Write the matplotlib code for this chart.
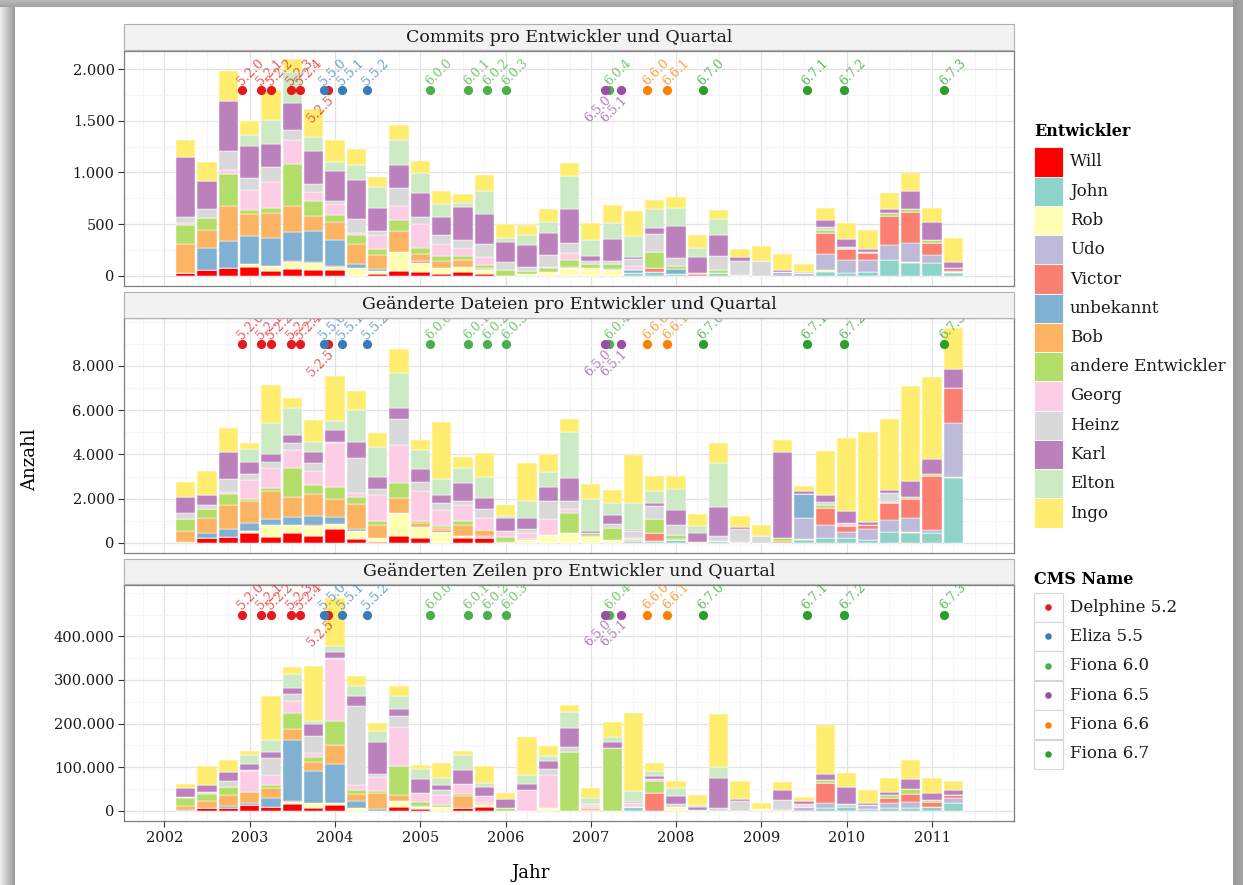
import matplotlib
matplotlib.use("Agg")
import matplotlib.pyplot as plt
import numpy as np
from matplotlib.patches import Rectangle
from matplotlib.ticker import FuncFormatter, MultipleLocator, FixedLocator

plt.rcParams["font.family"] = ["DejaVu Serif"]

W, H = 1243, 885

DEVS = ["Will", "John", "Rob", "Udo", "Victor", "unbekannt", "Bob",
        "andere Entwickler", "Georg", "Heinz", "Karl", "Elton", "Ingo"]
DEV_COLORS = ["#FF0000", "#8DD3C7", "#FFFFB3", "#BEBADA", "#FB8072", "#80B1D3", "#FDB462",
              "#B3DE69", "#FCCDE5", "#D9D9D9", "#BC80BD", "#CCEBC5", "#FFED6F"]

# quarters 2002.25 ... 2011.25 (37 bars)
QUARTERS = np.arange(2002.25, 2011.3, 0.25)

# commits per developer and quarter
COMMITS = {
    "Will":      [23, 58, 71, 87, 48, 68, 58, 58, 0, 16, 48, 39, 13, 39, 13, 0, 0, 0, 0,
                  0, 0, 0, 0, 0, 0, 0, 0, 0, 0, 0, 0, 0, 0, 0, 0, 0, 0],
    "John":      [0, 0, 0, 0, 0, 0, 0, 0, 0, 0, 0, 0, 0, 0, 0, 0, 0, 0, 0,
                  0, 0, 23, 32, 16, 0, 23, 0, 0, 0, 0, 32, 23, 39, 152, 126, 126, 23],
    "Rob":       [0, 0, 0, 23, 48, 65, 65, 26, 74, 32, 178, 87, 65, 48, 42, 0, 20, 39, 71,
                  71, 55, 0, 0, 0, 0, 0, 0, 0, 0, 0, 23, 0, 0, 0, 6, 0, 13],
    "Udo":       [0, 0, 0, 0, 0, 0, 0, 0, 0, 0, 0, 0, 0, 0, 0, 0, 0, 0, 0,
                  0, 0, 0, 0, 0, 0, 0, 0, 0, 32, 23, 152, 132, 113, 149, 181, 71, 10],
    "Victor":    [0, 0, 0, 0, 0, 8, 8, 6, 0, 0, 0, 12, 0, 0, 0, 0, 0, 0, 0,
                  8, 0, 0, 42, 0, 13, 0, 0, 0, 0, 0, 210, 103, 65, 278, 304, 123, 26],
    "unbekannt": [0, 207, 268, 278, 265, 281, 300, 258, 39, 16, 8, 0, 0, 0, 12, 0, 0, 0, 10,
                  0, 10, 36, 0, 45, 0, 0, 0, 0, 0, 0, 0, 0, 0, 0, 0, 0, 0],
    "Bob":       [281, 181, 339, 207, 249, 258, 145, 171, 191, 132, 197, 74, 65, 65, 12, 0, 0, 0, 0,
                  0, 0, 0, 0, 0, 13, 0, 0, 0, 0, 0, 0, 0, 0, 0, 0, 0, 0],
    "andere Entwickler": [187, 113, 304, 39, 42, 404, 145, 65, 90, 58, 113, 55, 48, 39, 26, 55, 26, 36, 71,
                          36, 48, 0, 152, 29, 0, 32, 0, 0, 0, 0, 26, 10, 10, 26, 26, 26, 0],
    "Georg":     [16, 0, 39, 200, 252, 226, 94, 113, 19, 136, 132, 229, 113, 81, 74, 0, 0, 12, 65,
                  0, 0, 36, 0, 0, 0, 0, 6, 0, 0, 0, 0, 0, 0, 0, 0, 0, 0],
    "Heinz":     [65, 90, 187, 110, 145, 100, 78, 26, 132, 42, 171, 71, 90, 78, 126, 78, 39, 116, 103,
                  26, 29, 65, 181, 78, 0, 132, 139, 142, 0, 0, 29, 8, 0, 0, 0, 0, 0],
    "Karl":      [578, 265, 481, 313, 226, 268, 313, 294, 378, 226, 226, 239, 171, 313, 291, 197, 216, 210, 323,
                  45, 216, 19, 55, 313, 155, 207, 32, 0, 26, 16, 65, 81, 36, 45, 178, 174, 61],
    "Elton":     [0, 0, 0, 110, 236, 291, 142, 84, 152, 200, 242, 187, 126, 45, 226, 36, 94, 107, 320,
                  161, 149, 210, 181, 171, 90, 155, 0, 0, 0, 0, 0, 0, 0, 0, 0, 0, 0],
    "Ingo":      [165, 187, 291, 132, 291, 129, 265, 210, 152, 103, 142, 123, 129, 84, 149, 136, 94, 129, 132,
                  161, 174, 233, 90, 110, 123, 90, 78, 142, 149, 74, 123, 149, 181, 152, 171, 139, 236],
}

# changed files per developer and quarter
FILES = {
    "Will":      [45, 226, 256, 466, 256, 436, 301, 647, 165, 45, 301, 226, 0, 211, 226, 0, 0, 0, 0,
                  0, 0, 0, 0, 0, 0, 0, 0, 0, 0, 0, 0, 0, 0, 0, 0, 0, 0],
    "John":      [0, 0, 0, 0, 0, 0, 0, 0, 0, 0, 0, 0, 0, 0, 0, 0, 0, 0, 0,
                  0, 0, 75, 75, 120, 0, 75, 0, 0, 0, 120, 196, 226, 120, 481, 451, 451, 2918],
    "Rob":       [0, 0, 0, 90, 541, 391, 481, 226, 391, 165, 1053, 511, 511, 120, 0, 0, 120, 346, 436,
                  241, 135, 0, 0, 0, 0, 0, 0, 0, 0, 60, 0, 0, 0, 0, 45, 0, 45],
    "Udo":       [0, 0, 0, 0, 0, 0, 0, 0, 0, 0, 0, 0, 0, 0, 0, 0, 0, 0, 0,
                  0, 0, 0, 0, 0, 0, 0, 0, 0, 0, 963, 602, 286, 526, 572, 647, 120, 2437],
    "Victor":    [0, 0, 0, 0, 0, 0, 45, 0, 0, 0, 0, 0, 60, 0, 30, 45, 0, 0, 0,
                  0, 0, 75, 376, 0, 0, 0, 0, 0, 0, 0, 782, 241, 150, 752, 857, 2467, 1624],
    "unbekannt": [0, 211, 391, 361, 286, 346, 406, 301, 60, 0, 0, 0, 0, 0, 30, 0, 0, 0, 0,
                  0, 0, 0, 0, 75, 0, 0, 0, 0, 0, 1053, 0, 0, 0, 0, 0, 0, 0],
    "Bob":       [511, 707, 1068, 963, 1278, 887, 993, 797, 1143, 617, 692, 150, 105, 496, 286, 0, 0, 0, 0,
                  45, 0, 45, 0, 0, 45, 0, 0, 0, 75, 0, 0, 0, 0, 0, 0, 0, 0],
    "andere Entwickler": [541, 391, 511, 120, 135, 1308, 406, 556, 331, 180, 677, 120, 105, 180, 0, 211, 60, 0, 917,
                          150, 556, 0, 632, 165, 0, 0, 0, 0, 150, 0, 120, 0, 0, 45, 75, 90, 0],
    "Georg":     [0, 0, 75, 857, 887, 842, 602, 1985, 165, 1143, 1715, 1324, 722, 707, 572, 301, 256, 752, 195,
                  0, 0, 45, 0, 0, 0, 0, 45, 0, 0, 0, 0, 150, 0, 0, 0, 0, 0],
    "Heinz":     [256, 165, 587, 271, 271, 301, 361, 45, 1564, 301, 1173, 436, 301, 165, 391, 0, 211, 797, 346,
                  0, 180, 301, 572, 451, 0, 226, 572, 301, 0, 0, 135, 0, 0, 391, 0, 0, 0],
    "Karl":      [737, 481, 1233, 511, 376, 361, 526, 526, 737, 526, 496, 572, 346, 842, 481, 587, 496, 647, 1038,
                  120, 406, 60, 150, 677, 391, 1324, 105, 0, 3895, 135, 316, 556, 165, 150, 737, 647, 842],
    "Elton":     [0, 0, 0, 602, 1399, 1233, 436, 436, 1459, 1369, 1579, 872, 737, 662, 963, 90, 752, 677, 2075,
                  1414, 526, 1203, 556, 932, 346, 1970, 0, 0, 0, 0, 0, 0, 0, 0, 0, 0, 0],
    "Ingo":      [647, 1068, 1068, 271, 1715, 466, 1008, 2030, 842, 617, 1083, 451, 2557, 481, 1098, 481, 1700, 782, 602,
                  707, 602, 2181, 662, 602, 541, 917, 511, 496, 526, 241, 2015, 3294, 4046, 3219, 4301, 3730, 1865],
}

# changed lines per developer and quarter, in thousands
LINES_K = {
    "Will":      [0, 6.8, 6.1, 12.9, 9.1, 14.4, 6.1, 12.9, 0, 0, 9.1, 3.8, 0, 5.3, 9.1, 0, 0, 0, 0,
                  0, 0, 0, 0, 0, 0, 0, 0, 0, 0, 0, 0, 0, 0, 0, 0, 0, 0],
    "John":      [0, 0, 0, 0, 0, 0, 0, 0, 0, 0, 0, 0, 0, 0, 0, 0, 0, 0, 0,
                  0, 0, 7.6, 0, 0, 0, 0, 0, 0, 0, 0, 5.3, 7.6, 4.5, 6.1, 5.3, 7.6, 16.7],
    "Rob":       [0, 0, 0, 0, 0, 5.3, 10.6, 3.8, 5.3, 0, 13.6, 5.3, 7.6, 0, 3.0, 0, 0, 5.3, 0,
                  0, 0, 0, 0, 7.6, 0, 0, 0, 3.0, 0, 0, 0, 0, 0, 0, 0, 0, 0],
    "Udo":       [0, 0, 0, 0, 0, 0, 0, 0, 0, 0, 0, 0, 0, 0, 0, 0, 0, 0, 0,
                  0, 0, 0, 0, 0, 0, 0, 0, 0, 0, 7.6, 11.4, 5.3, 8.3, 10.6, 13.6, 0, 12.1],
    "Victor":    [0, 0, 0, 0, 0, 3.0, 0, 0, 0, 0, 0, 0, 0, 0, 0, 0, 0, 0, 0,
                  2.7, 0, 0, 41.7, 0, 0, 0, 0, 0, 0, 0, 47.0, 3.0, 0, 12.1, 19.7, 12.9, 6.8],
    "unbekannt": [1.5, 0, 3.8, 5.3, 21.2, 140.2, 75.0, 90.9, 15.9, 3.0, 0, 2.3, 0, 0, 0, 0, 0, 0, 0,
                  0, 0, 0, 0, 0, 0, 0, 0, 0, 0, 0, 0, 0, 0, 0, 0, 0, 0],
    "Bob":       [8.3, 15.9, 26.5, 24.2, 22.0, 24.2, 20.5, 43.2, 18.2, 37.1, 14.4, 0, 0, 27.3, 3.0, 0, 0, 0, 0,
                  2.6, 0, 0, 0, 0, 1.5, 0, 0, 0, 0, 0, 0, 0, 0, 0, 0, 0, 0],
    "andere Entwickler": [18.9, 15.2, 17.4, 0, 6.1, 37.1, 11.4, 56.1, 7.6, 6.1, 64.4, 7.6, 5.3, 6.8, 1.5, 5.3, 0, 0, 134.1,
                          0, 143.9, 0, 25.8, 0, 0, 0, 0, 0, 1.5, 0, 7.6, 0, 0, 6.8, 12.1, 3.8, 0],
    "Georg":     [3.8, 5.3, 0, 49.2, 24.2, 26.5, 8.3, 140.9, 12.1, 31.1, 90.2, 22.0, 23.5, 22.7, 18.2, 0, 47.0, 75.8, 0,
                  5.3, 0, 9.8, 6.0, 0, 0, 0, 0, 0, 0, 6.8, 0, 0, 0, 0, 0, 0, 0],
    "Heinz":     [0, 0, 13.6, 2.3, 37.9, 17.4, 40.2, 2.3, 181.1, 7.6, 25.8, 0, 12.1, 0, 0, 0, 0, 15.2, 12.9,
                  3.8, 0, 0, 0, 7.6, 0, 5.3, 22.0, 0, 24.2, 0, 0, 0, 0, 0, 0, 0, 0],
    "Karl":      [20.5, 16.7, 22.0, 12.9, 13.6, 13.6, 25.8, 14.4, 22.0, 73.5, 15.9, 31.1, 10.6, 30.3, 20.5, 20.5, 15.2, 17.4, 41.7,
                  0, 12.9, 2.0, 6.1, 17.4, 7.6, 68.9, 5.3, 0, 21.2, 8.3, 12.1, 38.6, 3.8, 8.3, 22.0, 17.4, 12.9],
    "Elton":     [0, 0, 0, 20.5, 28.8, 31.8, 6.8, 12.9, 22.7, 23.5, 29.5, 23.5, 15.9, 35.6, 7.6, 0, 18.9, 12.9, 38.6,
                  15.9, 12.9, 25.8, 10.6, 19.7, 3.8, 25.8, 0, 0, 0, 0, 0, 0, 0, 0, 0, 0, 0],
    "Ingo":      [9.1, 43.2, 26.5, 10.6, 99.2, 15.2, 126.5, 110.6, 23.5, 18.9, 22.0, 9.8, 33.3, 8.3, 38.6, 15.2, 87.9, 22.7, 15.2,
                  22.0, 34.8, 179.5, 19.7, 16.7, 22.0, 122.7, 40.2, 13.6, 18.2, 9.8, 113.6, 31.1, 31.1, 30.3, 43.9, 32.6, 18.9],
}

# CMS releases
RELEASE_NAMES = ["5.2.0", "5.2.1", "5.2.2", "5.2.3", "5.2.4", "5.2.5", "5.5.0", "5.5.1", "5.5.2",
                 "6.0.0", "6.0.1", "6.0.2", "6.0.3", "6.0.4", "6.5.0", "6.5.1", "6.6.0", "6.6.1",
                 "6.7.0", "6.7.1", "6.7.2", "6.7.3"]
RELEASE_DATES = [2002.91, 2003.13, 2003.25, 2003.49, 2003.59, 2003.92, 2003.87, 2004.08, 2004.38,
                 2005.12, 2005.56, 2005.78, 2006.01, 2007.21, 2007.17, 2007.35, 2007.66, 2007.89,
                 2008.31, 2009.53, 2009.97, 2011.14]
RELEASE_LINE = ["Delphine 5.2"] * 6 + ["Eliza 5.5"] * 3 + ["Fiona 6.0"] * 5 + \
               ["Fiona 6.5"] * 2 + ["Fiona 6.6"] * 2 + ["Fiona 6.7"] * 4
LABEL_DOWN = {"5.2.5", "6.5.0", "6.5.1"}
CMS_NAMES = ["Delphine 5.2", "Eliza 5.5", "Fiona 6.0", "Fiona 6.5", "Fiona 6.6", "Fiona 6.7"]
CMS_COLORS = ["#E41A1C", "#377EB8", "#4DAF4A", "#984EA3", "#FF7F00", "#2E9E2A"]

TITLES = ["Commits pro Entwickler und Quartal",
          "Geänderte Dateien pro Entwickler und Quartal",
          "Geänderten Zeilen pro Entwickler und Quartal"]
RELEASE_Y = [1800, 9000, 450000]
YTICKS = [[0, 500, 1000, 1500, 2000],
          [0, 2000, 4000, 6000, 8000],
          [0, 100000, 200000, 300000, 400000]]
YMINOR = [250, 1000, 50000]

# layout (pixels)
L, R = 124.3, 1014.3
BOXES = [(50.7, 285.7), (318.3, 552.5), (585.0, 821.0)]
STRIP_H = 25.5
YLIMS = [(-97, 2180), (-438, 10158), (-23600, 517700)]

fig = plt.figure(figsize=(W / 100, H / 100), dpi=100, facecolor="white")

# page shadow
bg = fig.add_axes([0, 0, 1, 1], zorder=-10)
bg.set_xlim(0, W); bg.set_ylim(H, 0); bg.axis("off")
for i in range(15):
    g = 0.93 - 0.33 * i / 14
    bg.add_patch(Rectangle((i, 0), 1.05, H, color=(g, g, g), lw=0))
for j in range(7):
    g = 0.72 - 0.08 * j / 6
    bg.add_patch(Rectangle((0, j), W, 1.05, color=(g, g, g), lw=0))
for i in range(10):
    g = 0.60 + 0.04 * i / 9
    bg.add_patch(Rectangle((1233 + i, 0), 1.05, H, color=(g, g, g), lw=0))

fmt = FuncFormatter(lambda v, p: f"{v:,.0f}".replace(",", "."))
tables = [(COMMITS, 1), (FILES, 1), (LINES_K, 1000)]
for k, ((top, bot), (table, scale)) in enumerate(zip(BOXES, tables)):
    ax = fig.add_axes([L / W, 1 - bot / H, (R - L) / W, (bot - top) / H])
    bottom = np.zeros(len(QUARTERS))
    for dev, col in zip(DEVS, DEV_COLORS):
        vals = np.array(table[dev], dtype=float) * scale
        ax.bar(QUARTERS, vals, width=0.226, bottom=bottom, color=col,
               edgecolor="white", linewidth=0.35, zorder=2)
        bottom += vals
    # releases
    yr = RELEASE_Y[k]
    for name, date, line in zip(RELEASE_NAMES, RELEASE_DATES, RELEASE_LINE):
        col = CMS_COLORS[CMS_NAMES.index(line)]
        ax.scatter([date], [yr], s=44, color=col, linewidths=0, zorder=4)
        if name in LABEL_DOWN:
            ax.annotate(name, (date, yr), xytext=(-0.5, -2.5), textcoords="offset points",
                        rotation=45, rotation_mode="anchor", ha="right", va="top",
                        fontsize=9, color=col, alpha=0.75, zorder=5)
        else:
            ax.annotate(name, (date, yr), xytext=(1.5, 1.5), textcoords="offset points",
                        rotation=45, rotation_mode="anchor", ha="left", va="bottom",
                        fontsize=9, color=col, alpha=0.75, zorder=5)
    ax.set_xlim(2001.53, 2011.965)
    ax.set_ylim(*YLIMS[k])
    ax.xaxis.set_major_locator(MultipleLocator(1))
    ax.xaxis.set_minor_locator(MultipleLocator(0.25))
    ax.yaxis.set_major_locator(FixedLocator(YTICKS[k]))
    ax.yaxis.set_minor_locator(MultipleLocator(YMINOR[k]))
    ax.yaxis.set_major_formatter(fmt)
    ax.grid(which="major", color="#E2E2E2", linewidth=0.9, zorder=0)
    ax.grid(which="minor", color="#F4F4F4", linewidth=0.6, zorder=0)
    ax.set_axisbelow(True)
    for s in ax.spines.values():
        s.set_color("#7F7F7F"); s.set_linewidth(0.9)
    ax.tick_params(axis="y", which="major", length=4, width=0.8, color="#333333",
                   labelsize=10.5, labelcolor="#1A1A1A", pad=3)
    ax.tick_params(axis="both", which="minor", length=0)
    if k < 2:
        ax.tick_params(axis="x", which="major", length=0, labelbottom=False)
    else:
        ax.tick_params(axis="x", which="major", length=4, width=0.8, color="#333333",
                       labelsize=10.5, labelcolor="#1A1A1A", pad=3)
        ax.xaxis.set_major_formatter(FuncFormatter(lambda v, p: f"{int(round(v))}"))

# overlay in pixel coordinates: strips and legends
ov = fig.add_axes([0, 0, 1, 1], zorder=10)
ov.set_xlim(0, W); ov.set_ylim(H, 0); ov.axis("off")
for (top, bot), title in zip(BOXES, TITLES):
    ov.add_patch(Rectangle((L, top - STRIP_H - 0.8), R - L, STRIP_H, facecolor="#F2F2F2",
                           edgecolor="#B0B0B0", linewidth=0.8))
    ov.text((L + R) / 2, top - STRIP_H / 2 - 0.8, title, ha="center", va="center",
            fontsize=12.5, color="#1A1A1A")

fig.text(30 / W, 1 - 460 / H, "Anzahl", rotation=90, ha="center", va="center", fontsize=13)
fig.text(531 / W, 1 - 873 / H, "Jahr", ha="center", va="center", fontsize=13)

# developer legend
ov.text(1034, 132, "Entwickler", fontweight="bold", fontsize=11.5, ha="left", va="center")
for i, (dev, col) in enumerate(zip(DEVS, DEV_COLORS)):
    y = 162 + 29.25 * i
    ov.add_patch(Rectangle((1034, y - 14.6), 29, 29.2, facecolor=col, edgecolor="white", linewidth=0.6))
    ov.text(1070, y, dev, fontsize=12, ha="left", va="center", color="#1A1A1A")

# CMS legend
ov.text(1034, 579, "CMS Name", fontweight="bold", fontsize=11.5, ha="left", va="center")
for i, (name, col) in enumerate(zip(CMS_NAMES, CMS_COLORS)):
    y = 607 + 29.4 * i
    ov.add_patch(Rectangle((1034, y - 14.5), 29, 29, facecolor="white", edgecolor="#D6D6D6", linewidth=0.8))
    ov.scatter([1048.5], [y], s=22, color=col, linewidths=0)
    ov.text(1070, y, name, fontsize=12, ha="left", va="center", color="#1A1A1A")

fig.savefig("out.png", dpi=100, facecolor="white")
